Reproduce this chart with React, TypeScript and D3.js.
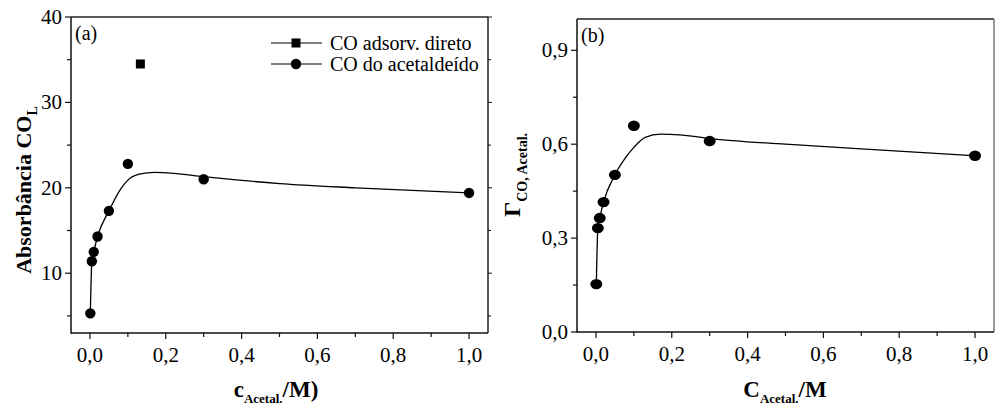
import React from "react";
import * as d3 from "d3";

// ---- Data ----
const concA = [0.001, 0.005, 0.01, 0.02, 0.05, 0.1, 0.3, 1.0];
const absorbA = [5.3, 11.4, 12.5, 14.3, 17.3, 22.8, 21.0, 19.4];
const directX = [0.133];
const directY = [34.5];
const fitAX = [0.001, 0.005, 0.01, 0.02, 0.05, 0.08, 0.1, 0.13, 0.17, 0.22, 0.3, 0.5, 0.7, 1.0];
const fitAY = [5.3, 11.4, 12.5, 14.3, 17.3, 19.8, 20.9, 21.6, 21.8, 21.7, 21.3, 20.5, 20.0, 19.4];

const concB = [0.001, 0.005, 0.01, 0.02, 0.05, 0.1, 0.3, 1.0];
const gammaB = [0.153, 0.332, 0.364, 0.415, 0.502, 0.659, 0.61, 0.563];
const fitBX = [0.001, 0.005, 0.01, 0.02, 0.05, 0.08, 0.1, 0.13, 0.17, 0.22, 0.3, 0.5, 0.7, 1.0];
const fitBY = [0.153, 0.332, 0.364, 0.415, 0.502, 0.56, 0.59, 0.622, 0.632, 0.63, 0.618, 0.6, 0.585, 0.563];

const xMajor = [0, 0.2, 0.4, 0.6, 0.8, 1.0];
const xMinor = [0.1, 0.3, 0.5, 0.7, 0.9];
const yMajorA = [10, 20, 30, 40];
const yMinorA = [5, 15, 25, 35];
const yMajorB = [0, 0.3, 0.6, 0.9];
const yMinorB = [0.15, 0.45, 0.75];

const legendLabels = ["CO adsorv. direto", "CO do acetaldeído"];

const FONT = "Liberation Serif, DejaVu Serif, serif";
const fmt = (v: number, d: number) => v.toFixed(d).replace(".", ",");

type PanelProps = {
  x0: number; x1: number; y0: number; y1: number;
  yDomain: [number, number];
  yMajor: number[]; yMinor: number[]; yDec: number;
  px: number[]; py: number[]; fx: number[]; fy: number[];
  rx: number; ry: number;
  rightTicks: boolean; rightColor: string;
  tag: string;
};

function Panel(p: PanelProps) {
  const x = d3.scaleLinear().domain([-0.05, 1.05]).range([p.x0, p.x1]);
  const y = d3.scaleLinear().domain(p.yDomain).range([p.y1, p.y0]);
  const line = d3
    .line<number>()
    .x((d, i) => x(p.fx[i]))
    .y((d) => y(d))
    .curve(d3.curveMonotoneX);
  return (
    <g>
      <line x1={p.x0} x2={p.x1} y1={p.y0} y2={p.y0} stroke="#222" strokeWidth={1.5} />
      <line x1={p.x1} x2={p.x1} y1={p.y0} y2={p.y1} stroke={p.rightColor} strokeWidth={1.5} />
      <line x1={p.x0} x2={p.x0} y1={p.y0} y2={p.y1 + 0.75} stroke="#111" strokeWidth={1.5} />
      <line x1={p.x0} x2={p.x1} y1={p.y1} y2={p.y1} stroke="#111" strokeWidth={1.5} />
      {xMajor.map((v) => (
        <g key={"xm" + v}>
          <line x1={x(v)} x2={x(v)} y1={p.y1} y2={p.y1 + 6} stroke="#111" strokeWidth={1.2} />
          <text x={x(v)} y={p.y1 + 29} textAnchor="middle" fontSize={21} fontFamily={FONT} fontWeight="normal">
            {fmt(v, 1)}
          </text>
        </g>
      ))}
      {xMinor.map((v) => (
        <line key={"xn" + v} x1={x(v)} x2={x(v)} y1={p.y1} y2={p.y1 + 4} stroke="#111" strokeWidth={1.2} />
      ))}
      {p.yMajor.map((v) => (
        <g key={"ym" + v}>
          <line x1={p.x0 - 6} x2={p.x0} y1={y(v)} y2={y(v)} stroke="#111" strokeWidth={1.2} />
          {p.rightTicks && (
            <line x1={p.x1} x2={p.x1 + 4} y1={y(v)} y2={y(v)} stroke="#111" strokeWidth={1} />
          )}
          <text x={p.x0 - 9} y={y(v) + 7} textAnchor="end" fontSize={21} fontFamily={FONT} fontWeight="normal">
            {fmt(v, p.yDec)}
          </text>
        </g>
      ))}
      {p.yMinor.map((v) => (
        <g key={"yn" + v}>
          <line x1={p.x0 - 4} x2={p.x0} y1={y(v)} y2={y(v)} stroke="#111" strokeWidth={1.2} />
          {p.rightTicks && (
            <line x1={p.x1} x2={p.x1 + 3} y1={y(v)} y2={y(v)} stroke="#111" strokeWidth={1} />
          )}
        </g>
      ))}
      <path d={line(p.fy) || ""} fill="none" stroke="#000" strokeWidth={1.3} />
      {p.py.map((v, i) => (
        <ellipse key={"pt" + i} cx={x(p.px[i])} cy={y(v)} rx={p.rx} ry={p.ry} fill="#000" />
      ))}
      <text x={p.x0 + 4} y={p.y0 + 23} fontSize={20} fontFamily={FONT} fontWeight="normal">
        {p.tag}
      </text>
    </g>
  );
}

export default function App() {
  const xA = d3.scaleLinear().domain([-0.05, 1.05]).range([71, 488]);
  const yA = d3.scaleLinear().domain([3, 40]).range([333, 17]);
  return (
    <svg width={995} height={405} style={{ position: "absolute", left: 0, top: 0, background: "#fff" }}>
      <rect width={995} height={405} fill="#fff" />
      <Panel
        x0={71} x1={488} y0={17} y1={333}
        yDomain={[3, 40]} yMajor={yMajorA} yMinor={yMinorA} yDec={0}
        px={concA} py={absorbA} fx={fitAX} fy={fitAY}
        rx={5.2} ry={5.2} rightTicks={true} rightColor="#222" tag="(a)"
      />
      {directY.map((v, i) => (
        <rect key={"sq" + i} x={xA(directX[i]) - 4.5} y={yA(v) - 4.5} width={9} height={9} fill="#000" />
      ))}
      <g fontFamily={FONT} fontSize={20} fontWeight="normal">
        <line x1={271} x2={322} y1={43} y2={43} stroke="#000" strokeWidth={1.2} />
        <rect x={291.5} y={38.5} width={9} height={9} fill="#000" />
        <text x={330} y={50}>{legendLabels[0]}</text>
        <line x1={271} x2={322} y1={64} y2={64} stroke="#000" strokeWidth={1.2} />
        <circle cx={296} cy={64} r={5.2} fill="#000" />
        <text x={330} y={71}>{legendLabels[1]}</text>
      </g>
      <Panel
        x0={577} x1={994} y0={19} y1={332}
        yDomain={[0, 1]} yMajor={yMajorB} yMinor={yMinorB} yDec={1}
        px={concB} py={gammaB} fx={fitBX} fy={fitBY}
        rx={6} ry={5.2} rightTicks={false} rightColor="#777" tag="(b)"
      />
      <g fontFamily={FONT} fontWeight="bold">
        <text transform="translate(31,190) rotate(-90)" textAnchor="middle" fontSize={22}>
          Absorbância CO<tspan fontSize={14} dy={6}>L</tspan>
        </text>
        <text x={276} y={397} textAnchor="middle" fontSize={23}>
          c<tspan fontSize={13} dy={6}>Acetal.</tspan><tspan dy={-6}>/M)</tspan>
        </text>
        <text transform="translate(520,175) rotate(-90)" textAnchor="middle" fontSize={24}>
          Γ<tspan fontSize={14} dy={7}>CO, Acetal.</tspan>
        </text>
        <text x={785} y={397} textAnchor="middle" fontSize={23}>
          C<tspan fontSize={13} dy={6}>Acetal.</tspan><tspan dy={-6}>/M</tspan>
        </text>
      </g>
    </svg>
  );
}
